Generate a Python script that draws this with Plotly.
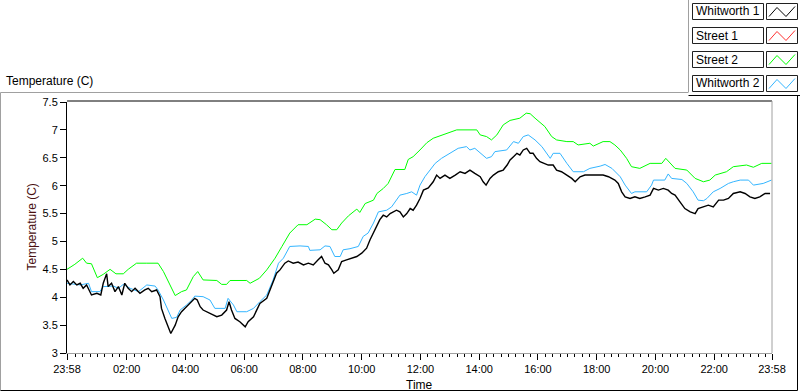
import plotly.graph_objects as go
from datetime import datetime, timedelta

W, H = 800, 392
START = datetime(2013, 5, 1, 23, 58)

# ---- data (minutes after 23:58, temperature in C) ----
w1_min = [0, 6, 13, 20, 27, 33, 40, 50, 61, 69, 74, 81, 84, 91, 98, 105, 112, 118, 125, 132,
          139, 149, 159, 166, 173, 183, 190, 193, 200, 207, 212, 221, 227, 234, 241, 248, 255, 261,
          266, 272, 278, 285, 296, 306, 316, 326, 331, 336, 343, 353, 364, 370, 381, 394, 408, 418,
          428, 435, 445, 452, 462, 472, 483, 493, 503, 513, 520, 527, 534, 541, 545, 554, 561, 571,
          582, 592, 602, 612, 619, 626, 633, 639, 646, 653, 660, 666, 673, 680, 687, 694, 701, 707,
          714, 721, 728, 738, 748, 755, 762, 772, 782, 793, 803, 813, 823, 833, 844, 850, 856, 864,
          871, 881, 891, 899, 905, 912, 919, 925, 932, 939, 946, 952, 959, 966, 976, 983, 993, 1000,
          1010, 1021, 1031, 1038, 1048, 1058, 1068, 1082, 1095, 1106, 1119, 1126, 1133, 1140, 1150,
          1160, 1170, 1181, 1191, 1198, 1208, 1218, 1228, 1235, 1242, 1252, 1262, 1273, 1283, 1289,
          1300, 1310, 1320, 1331, 1341, 1351, 1361, 1375, 1385, 1395, 1405, 1415, 1426, 1436]
w1_val = [4.31, 4.22, 4.28, 4.22, 4.25, 4.16, 4.22, 4.04, 4.07, 4.04, 4.25, 4.42, 4.19, 4.25, 4.10,
          4.19, 4.04, 4.25, 4.16, 4.10, 4.16, 4.07, 4.13, 4.16, 4.10, 4.13, 4.01, 3.80, 3.62, 3.44,
          3.35, 3.50, 3.65, 3.74, 3.80, 3.86, 3.92, 3.98, 3.95, 3.83, 3.77, 3.74, 3.68, 3.65, 3.68,
          3.77, 3.92, 3.77, 3.62, 3.56, 3.47, 3.56, 3.65, 3.89, 3.98, 4.19, 4.43, 4.49, 4.61, 4.65,
          4.61, 4.63, 4.58, 4.61, 4.58, 4.67, 4.73, 4.61, 4.58, 4.49, 4.43, 4.49, 4.64, 4.67, 4.70,
          4.73, 4.79, 4.88, 5.03, 5.15, 5.27, 5.39, 5.47, 5.44, 5.50, 5.53, 5.56, 5.53, 5.44, 5.50,
          5.59, 5.56, 5.65, 5.77, 5.92, 5.96, 6.07, 6.19, 6.13, 6.19, 6.13, 6.19, 6.25, 6.22, 6.28,
          6.22, 6.16, 6.07, 6.01, 6.13, 6.19, 6.25, 6.28, 6.37, 6.46, 6.52, 6.58, 6.55, 6.64, 6.67,
          6.58, 6.58, 6.49, 6.43, 6.40, 6.37, 6.37, 6.28, 6.25, 6.19, 6.13, 6.07, 6.16, 6.19, 6.19,
          6.19, 6.19, 6.16, 6.10, 6.04, 5.89, 5.80, 5.77, 5.80, 5.77, 5.80, 5.83, 5.95, 5.92, 5.95,
          5.92, 5.86, 5.83, 5.71, 5.59, 5.53, 5.50, 5.59, 5.62, 5.65, 5.62, 5.74, 5.74, 5.77, 5.86,
          5.89, 5.86, 5.80, 5.77, 5.80, 5.86, 5.86]

s1_min = []
s1_val = []

s2_min = [0, 16, 32, 40, 50, 62, 74, 88, 100, 115, 125, 142, 163, 186, 197, 210, 221, 234, 244,
          258, 267, 278, 306, 316, 326, 333, 367, 374, 387, 393, 408, 425, 439, 455, 472, 490, 507,
          517, 530, 541, 551, 561, 575, 592, 598, 609, 626, 633, 646, 656, 670, 690, 697, 707, 721,
          735, 748, 769, 796, 837, 844, 857, 867, 878, 891, 905, 925, 938, 946, 956, 976, 990, 1000,
          1021, 1034, 1044, 1068, 1075, 1095, 1109, 1119, 1130, 1143, 1153, 1170, 1191, 1215, 1223,
          1232, 1242, 1266, 1283, 1300, 1313, 1324, 1347, 1361, 1388, 1402, 1419, 1439]
s2_val = [4.50, 4.59, 4.70, 4.61, 4.60, 4.35, 4.41, 4.50, 4.42, 4.42, 4.50, 4.61, 4.61, 4.61, 4.46,
          4.22, 4.03, 4.10, 4.13, 4.37, 4.46, 4.31, 4.30, 4.23, 4.23, 4.30, 4.30, 4.25, 4.31, 4.34,
          4.49, 4.70, 4.91, 5.15, 5.30, 5.30, 5.40, 5.39, 5.30, 5.21, 5.21, 5.33, 5.46, 5.58, 5.52,
          5.68, 5.74, 5.86, 5.95, 6.04, 6.29, 6.29, 6.47, 6.52, 6.64, 6.77, 6.85, 6.92, 7.00, 7.00,
          6.91, 6.88, 6.82, 6.91, 7.09, 7.17, 7.21, 7.30, 7.29, 7.21, 7.06, 6.88, 6.82, 6.79, 6.79,
          6.73, 6.76, 6.71, 6.79, 6.79, 6.73, 6.64, 6.49, 6.34, 6.31, 6.40, 6.40, 6.49, 6.40, 6.31,
          6.28, 6.13, 6.07, 6.10, 6.19, 6.25, 6.34, 6.37, 6.33, 6.40, 6.40]

w2_min = [0, 27, 44, 50, 67, 74, 95, 105, 115, 129, 146, 163, 180, 186, 197, 207, 214, 224, 231,
          244, 255, 261, 278, 292, 302, 323, 329, 340, 347, 367, 381, 394, 408, 421, 432, 442, 455,
          476, 493, 496, 517, 527, 537, 547, 558, 564, 578, 595, 605, 615, 626, 636, 653, 663, 673,
          680, 694, 704, 714, 721, 731, 742, 752, 765, 782, 799, 816, 823, 833, 844, 857, 867, 874,
          898, 912, 922, 932, 942, 956, 970, 987, 993, 1007, 1021, 1034, 1055, 1068, 1089, 1099,
          1113, 1130, 1140, 1153, 1160, 1184, 1194, 1198, 1221, 1228, 1235, 1256, 1266, 1279, 1289,
          1300, 1307, 1320, 1334, 1351, 1361, 1375, 1392, 1402, 1422, 1432, 1439]
w2_val = [4.25, 4.22, 4.25, 4.10, 4.10, 4.19, 4.20, 4.16, 4.23, 4.16, 4.10, 4.22, 4.20, 4.13, 3.95,
          3.74, 3.62, 3.64, 3.77, 3.86, 3.95, 4.02, 4.01, 3.95, 3.80, 3.80, 3.98, 3.86, 3.74, 3.74,
          3.80, 3.92, 4.04, 4.31, 4.61, 4.70, 4.91, 4.92, 4.91, 4.84, 4.85, 4.92, 4.91, 4.73, 4.73,
          4.85, 4.87, 4.91, 5.09, 5.15, 5.33, 5.53, 5.56, 5.62, 5.74, 5.83, 5.86, 5.89, 5.83, 6.01,
          6.16, 6.28, 6.40, 6.49, 6.58, 6.67, 6.70, 6.64, 6.67, 6.58, 6.49, 6.52, 6.61, 6.64, 6.79,
          6.76, 6.88, 6.91, 6.82, 6.70, 6.49, 6.58, 6.58, 6.40, 6.25, 6.25, 6.31, 6.35, 6.38, 6.31,
          6.16, 6.01, 5.86, 5.89, 5.89, 6.01, 6.10, 6.10, 6.21, 6.13, 6.11, 6.04, 5.89, 5.74, 5.73,
          5.77, 5.89, 5.95, 6.04, 6.07, 6.10, 6.10, 6.01, 6.04, 6.07, 6.10]

series_names = ["Whitworth 1", "Street 1", "Street 2", "Whitworth 2"]
series_colors = ["#000000", "#ff3030", "#00ff00", "#33b5ff"]
series_min = [w1_min, s1_min, s2_min, w2_min]
series_val = [w1_val, s1_val, s2_val, w2_val]

tick_labels = ["23:58", "02:00", "04:00", "06:00", "08:00", "10:00", "12:00",
               "14:00", "16:00", "18:00", "20:00", "22:00", "23:58"]
y_ticks = [3, 3.5, 4, 4.5, 5, 5.5, 6, 6.5, 7, 7.5]
y_tick_text = ["3", "3.5", "4", "4.5", "5", "5.5", "6", "6.5", "7", "7.5"]

FONT = "Liberation Sans, Arial, sans-serif"


def px(x):
    return x / W


def py(y):
    return 1 - y / H


def to_time(mins):
    return [START + timedelta(minutes=m) for m in mins]


tick_vals = []
for i, lab in enumerate(tick_labels):
    if i == 0:
        tick_vals.append(START)
    elif i == len(tick_labels) - 1:
        tick_vals.append(START + timedelta(hours=24))
    else:
        hh = int(lab.split(":")[0])
        tick_vals.append(datetime(2013, 5, 2, hh, 0))

fig = go.Figure()
# draw in reverse so black is on top
for name, col, mins, vals in reversed(list(zip(series_names, series_colors, series_min, series_val))):
    fig.add_trace(go.Scatter(x=to_time(mins), y=vals, mode="lines", name=name,
                             line=dict(color=col, width=1.4 if col == "#000000" else 1),
                             showlegend=False, hoverinfo="skip"))

PL, PR, PT, PB = 67, 772, 102, 353

fig.update_layout(
    width=W, height=H,
    margin=dict(l=0, r=0, t=0, b=0, autoexpand=False),
    paper_bgcolor="white", plot_bgcolor="white",
    font=dict(family=FONT, size=12, color="black"),
    hovermode=False,
    xaxis=dict(
        domain=[px(PL), px(PR)], type="date", automargin=False,
        range=[START, START + timedelta(hours=24)],
        tickmode="array", tickvals=tick_vals, ticktext=tick_labels,
        ticks="outside", ticklen=6, tickcolor="black", tickwidth=1,
        showgrid=False, zeroline=False,
        showline=True, linecolor="#a0a0a0", linewidth=1,
        tickfont=dict(family=FONT, size=11, color="black"),
        minor=dict(tickmode="linear", tick0="2013-05-02 00:00:00", dtick=15 * 60 * 1000,
                   ticks="outside", ticklen=3, tickcolor="black", showgrid=False),
    ),
    yaxis=dict(
        domain=[py(PB), py(PT)], automargin=False,
        range=[3, 7.5],
        tickmode="array", tickvals=y_ticks, ticktext=y_tick_text,
        ticks="outside", ticklen=6, tickcolor="black",
        showgrid=False, zeroline=False,
        showline=True, linecolor="black", linewidth=1,
        tickfont=dict(family=FONT, size=11, color="black"),
    ),
)

shapes = []
# plot frame top (black) and right (gray)
shapes.append(dict(type="line", xref="paper", yref="paper", x0=px(PL), x1=px(PR),
                   y0=py(PT - 1), y1=py(PT - 1), line=dict(color="black", width=1)))
shapes.append(dict(type="line", xref="paper", yref="paper", x0=px(PR), x1=px(PR),
                   y0=py(PT - 1), y1=py(PB), line=dict(color="#a0a0a0", width=1)))
# outer graph frame
shapes.append(dict(type="line", xref="paper", yref="paper", x0=px(0.5), x1=px(688),
                   y0=py(92.5), y1=py(92.5), line=dict(color="#a0a0a0", width=1)))
shapes.append(dict(type="line", xref="paper", yref="paper", x0=px(0.5), x1=px(0.5),
                   y0=py(92.5), y1=py(390.5), line=dict(color="#a0a0a0", width=1)))
shapes.append(dict(type="line", xref="paper", yref="paper", x0=px(0.5), x1=px(797.5),
                   y0=py(390.5), y1=py(390.5), line=dict(color="black", width=1)))
shapes.append(dict(type="line", xref="paper", yref="paper", x0=px(797.5), x1=px(797.5),
                   y0=py(95.5), y1=py(390.5), line=dict(color="black", width=1)))
# legend frame
shapes.append(dict(type="line", xref="paper", yref="paper", x0=px(688.5), x1=px(688.5),
                   y0=py(0), y1=py(92.5), line=dict(color="#a0a0a0", width=1)))
shapes.append(dict(type="line", xref="paper", yref="paper", x0=px(688.5), x1=px(800),
                   y0=py(95.5), y1=py(95.5), line=dict(color="black", width=1)))

annotations = []
row_tops = [3.5, 27.5, 51.5, 75.5]
for name, col, top in zip(series_names, series_colors, row_tops):
    # label box
    shapes.append(dict(type="rect", xref="paper", yref="paper", x0=px(692.5), x1=px(763.5),
                       y0=py(top), y1=py(top + 16), fillcolor="white",
                       line=dict(color="#202020", width=1)))
    # icon box
    shapes.append(dict(type="rect", xref="paper", yref="paper", x0=px(766.5), x1=px(797.5),
                       y0=py(top), y1=py(top + 16), fillcolor="white",
                       line=dict(color="#202020", width=1)))
    pts = [(769, top + 13), (777, top + 4), (786, top + 13), (795, top + 3)]
    path = "M " + " L ".join(f"{px(a)},{py(b)}" for a, b in pts)
    shapes.append(dict(type="path", xref="paper", yref="paper", path=path,
                       line=dict(color=col, width=1)))
    annotations.append(dict(x=px(694), y=py(top + 8), xref="paper", yref="paper",
                            xanchor="left", yanchor="middle", showarrow=False,
                            text=name, font=dict(family=FONT, size=12, color="black")))

annotations.append(dict(x=px(4), y=py(81), xref="paper", yref="paper", xanchor="left",
                        yanchor="middle", showarrow=False, text="Temperature (C)",
                        font=dict(family=FONT, size=12, color="black")))
annotations.append(dict(x=px(31.5), y=py(227), xref="paper", yref="paper", xanchor="center",
                        yanchor="middle", showarrow=False, text="Temperature (C)", textangle=-90,
                        font=dict(family=FONT, size=12, color="#4a1010")))
annotations.append(dict(x=px(419.5), y=py(384.5), xref="paper", yref="paper", xanchor="center",
                        yanchor="middle", showarrow=False, text="Time",
                        font=dict(family=FONT, size=12, color="black")))

fig.update_layout(shapes=shapes, annotations=annotations)
fig.write_html("out.html",
               config={"displayModeBar": False, "staticPlot": True},
               post_script="document.body.style.margin='0';document.body.style.overflow='hidden';")
